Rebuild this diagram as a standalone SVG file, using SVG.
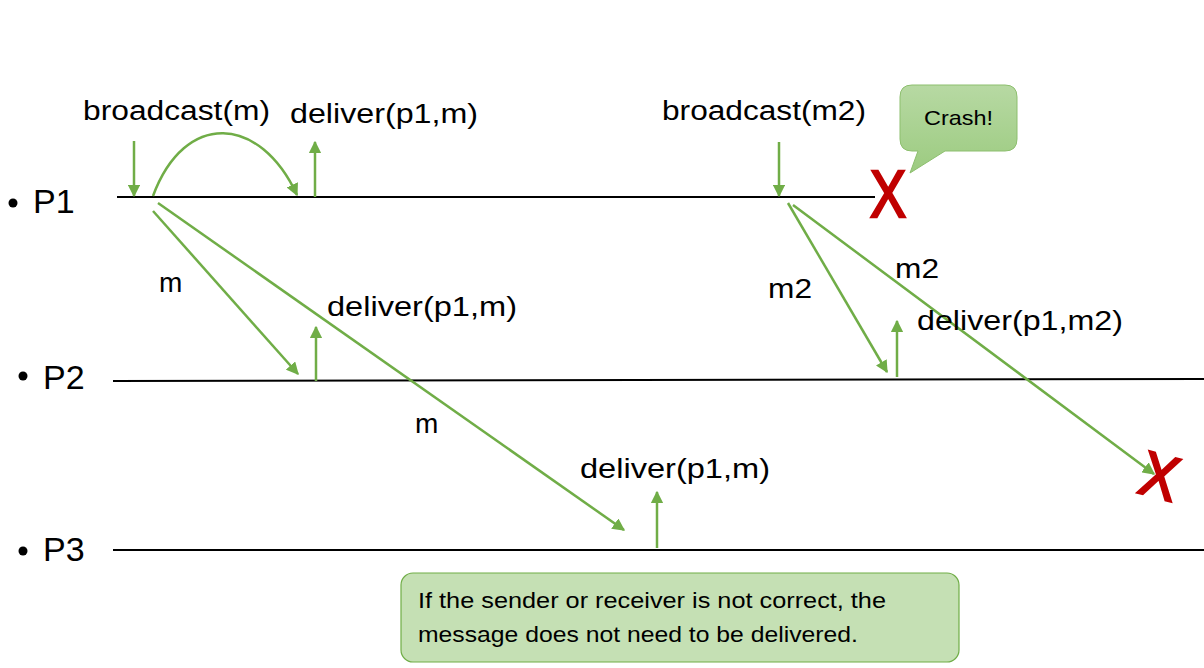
<svg xmlns="http://www.w3.org/2000/svg" width="1204" height="668" viewBox="0 0 1204 668">
<style>
.t{font-family:"Liberation Sans",Arial,sans-serif;font-size:27px;fill:#000}
.p{font-family:"Liberation Sans",Arial,sans-serif;font-size:34px;fill:#000}
.lbl{font-family:"Liberation Sans",Arial,sans-serif;font-size:28px;fill:#000}
.life{stroke:#000;stroke-width:2;fill:none}
.g{stroke:#70ad47;stroke-width:2.5;fill:none;marker-end:url(#ah)}
.x{font-family:"Liberation Sans",Arial,sans-serif;font-size:66px;fill:#c00000;stroke:#c00000;stroke-width:2.5}
</style>
<defs>
<marker id="ah" viewBox="0 0 10 10" refX="9" refY="5" markerWidth="5" markerHeight="5" orient="auto" markerUnits="strokeWidth">
<path d="M0,0 L10,5 L0,10 Z" fill="#70ad47"/>
</marker>
<linearGradient id="cg" x1="0" y1="0" x2="0" y2="1">
<stop offset="0" stop-color="#b7d9a3"/>
<stop offset="1" stop-color="#9ccb80"/>
</linearGradient>
</defs>
<rect width="1204" height="668" fill="#fff"/>
<g id="P1">
<circle cx="13" cy="203" r="4.5" fill="#000"/>
<text class="p" x="33" y="213">P1</text>
<line class="life" x1="117" y1="197" x2="875" y2="197"/>
</g>
<g id="P2">
<circle cx="23" cy="376" r="4.5" fill="#000"/>
<text class="p" x="43" y="389">P2</text>
<line class="life" x1="113" y1="381" x2="1204" y2="379"/>
</g>
<g id="P3">
<circle cx="23" cy="551" r="4.5" fill="#000"/>
<text class="p" x="43" y="561">P3</text>
<line class="life" x1="113" y1="550" x2="1204" y2="550"/>
</g>
<g id="connectors">
<line class="g" x1="134" y1="141" x2="134" y2="196"/>
<path class="g" d="M153,196 C185,110 260,115 297,195"/>
<line class="g" x1="315" y1="197" x2="315" y2="142"/>
<line class="g" x1="153" y1="211" x2="298" y2="374"/>
<line class="g" x1="158" y1="203" x2="624" y2="530"/>
<line class="g" x1="316" y1="381" x2="316" y2="327"/>
<line class="g" x1="657" y1="548" x2="657" y2="492"/>
<line class="g" x1="779" y1="142" x2="779" y2="196"/>
<line class="g" x1="788" y1="203" x2="887" y2="372"/>
<line class="g" x1="793" y1="205" x2="1154" y2="474"/>
<line class="g" x1="897" y1="377" x2="897" y2="321"/>
</g>
<g id="labels">
<text class="t" x="83" y="120" textLength="187" lengthAdjust="spacingAndGlyphs">broadcast(m)</text>
<text class="t" x="290" y="123" textLength="188" lengthAdjust="spacingAndGlyphs">deliver(p1,m)</text>
<text class="t" x="662" y="120" textLength="204" lengthAdjust="spacingAndGlyphs">broadcast(m2)</text>
<text class="lbl" x="159" y="292">m</text>
<text class="t" x="327" y="316" textLength="190" lengthAdjust="spacingAndGlyphs">deliver(p1,m)</text>
<text class="lbl" x="415" y="433">m</text>
<text class="t" x="580" y="478" textLength="190" lengthAdjust="spacingAndGlyphs">deliver(p1,m)</text>
<text class="lbl" x="768" y="298" textLength="44" lengthAdjust="spacingAndGlyphs">m2</text>
<text class="lbl" x="895" y="278" textLength="44" lengthAdjust="spacingAndGlyphs">m2</text>
<text class="t" x="917" y="330" textLength="206" lengthAdjust="spacingAndGlyphs">deliver(p1,m2)</text>
</g>
<g id="crash1">
<text class="x" x="0" y="0" text-anchor="middle" transform="translate(888,217) scale(0.82,1)">X</text>
</g>
<g id="crash2">
<text class="x" x="0" y="0" text-anchor="middle" transform="translate(1160,475) rotate(15) scale(0.85,0.95) translate(0,24)">X</text>
</g>
<g id="crash-callout">
<path d="M912,85 H1005 Q1017,85 1017,97 V139 Q1017,151 1005,151 H945 L910,173 L918,151 H912 Q900,151 900,139 V97 Q900,85 912,85 Z" fill="url(#cg)" stroke="#8dbf6e" stroke-width="1"/>
<text x="924" y="125" textLength="69" lengthAdjust="spacingAndGlyphs" font-family="Liberation Sans, Arial, sans-serif" font-size="21" fill="#000">Crash!</text>
</g>
<g id="note">
<rect x="401" y="573" width="558" height="89" rx="12" fill="#c5e0b4" stroke="#70ad47" stroke-width="1.2"/>
<text font-family="Liberation Sans, Arial, sans-serif" font-size="22" fill="#000">
<tspan x="418" y="608" textLength="468" lengthAdjust="spacingAndGlyphs">If the sender or receiver is not correct, the</tspan>
<tspan x="418" y="642" textLength="440" lengthAdjust="spacingAndGlyphs">message does not need to be delivered.</tspan>
</text>
</g>
</svg>
